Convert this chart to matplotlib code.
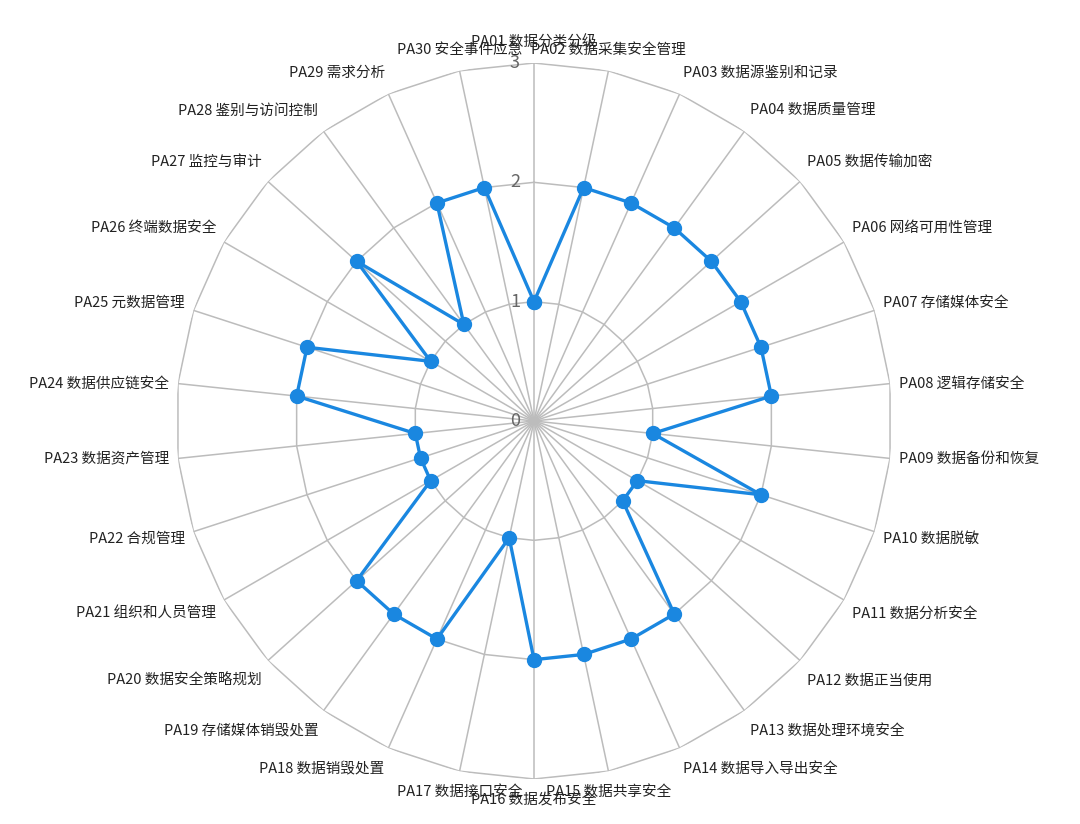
import numpy as np
import matplotlib
matplotlib.use("Agg")
import matplotlib.pyplot as plt

plt.rcParams['font.family'] = ['Noto Sans CJK SC', 'DejaVu Sans']

categories = [
    "PA01 数据分类分级", "PA02 数据采集安全管理", "PA03 数据源鉴别和记录",
    "PA04 数据质量管理", "PA05 数据传输加密", "PA06 网络可用性管理",
    "PA07 存储媒体安全", "PA08 逻辑存储安全", "PA09 数据备份和恢复",
    "PA10 数据脱敏", "PA11 数据分析安全", "PA12 数据正当使用",
    "PA13 数据处理环境安全", "PA14 数据导入导出安全", "PA15 数据共享安全",
    "PA16 数据发布安全", "PA17 数据接口安全", "PA18 数据销毁处置",
    "PA19 存储媒体销毁处置", "PA20 数据安全策略规划", "PA21 组织和人员管理",
    "PA22 合规管理", "PA23 数据资产管理", "PA24 数据供应链安全",
    "PA25 元数据管理", "PA26 终端数据安全", "PA27 监控与审计",
    "PA28 鉴别与访问控制", "PA29 需求分析", "PA30 安全事件应急",
]
scores = [1, 2, 2, 2, 2, 2, 2, 2, 1, 2,
          1, 1, 2, 2, 2, 2, 1, 2, 2, 2,
          1, 1, 1, 2, 2, 1, 2, 1, 2, 2]
ring_levels = [1, 2, 3]
tick_levels = [0, 1, 2, 3]
MAX_SCORE = 3

LINE_COLOR = "#1a87e0"
GRID_COLOR = "#bcbcbc"
TICK_COLOR = "#666666"

W, H = 1080, 824
CX, CY, R = 534, 421, 358


def main():
    fig = plt.figure(figsize=(W / 100, H / 100), dpi=100)
    ax = fig.add_axes([(CX - R) / W, (H - CY - R) / H, 2 * R / W, 2 * R / H],
                      projection='polar')
    ax.set_theta_zero_location('N')
    ax.set_theta_direction(-1)
    ax.set_ylim(0, MAX_SCORE)
    ax.grid(False)
    ax.spines['polar'].set_visible(False)
    ax.set_xticks([])
    ax.set_yticks([])
    ax.patch.set_alpha(0)

    n = len(categories)
    angles = np.arange(n) * 2 * np.pi / n
    closed = np.append(angles, angles[0])

    # polygon rings and spokes
    for lvl in ring_levels:
        ax.plot(closed, [lvl] * (n + 1), color=GRID_COLOR, lw=1.1, zorder=1)
    for a in angles:
        ax.plot([a, a], [0, MAX_SCORE], color=GRID_COLOR, lw=1.1, zorder=1)

    ax.plot(closed, np.append(scores, scores[0]), color=LINE_COLOR, lw=2.4,
            marker='o', ms=10, mfc=LINE_COLOR, mec=LINE_COLOR, zorder=3)

    for lvl in tick_levels:
        ax.annotate(str(lvl), xy=(0, lvl), xytext=(-14, 0), textcoords='offset pixels',
                    ha='right', va='center', color=TICK_COLOR, fontsize=13,
                    annotation_clip=False, zorder=4)

    for a, label in zip(angles, categories):
        s, c = np.sin(a), np.cos(a)
        if abs(s) < 0.3:
            ha, dx = 'center', 0
        else:
            ha = 'left' if s > 0 else 'right'
            dx = 9 * s
        dy = np.sign(c) * np.clip((abs(c) - 0.1) * 35, 0, 21)
        ax.annotate(label, xy=(a, MAX_SCORE), xytext=(dx, dy), textcoords='offset pixels',
                    ha=ha, va='center', fontsize=10.5, color='#222222',
                    annotation_clip=False)

    fig.savefig("out.png", dpi=100)
    plt.close(fig)


if __name__ == "__main__":
    main()
